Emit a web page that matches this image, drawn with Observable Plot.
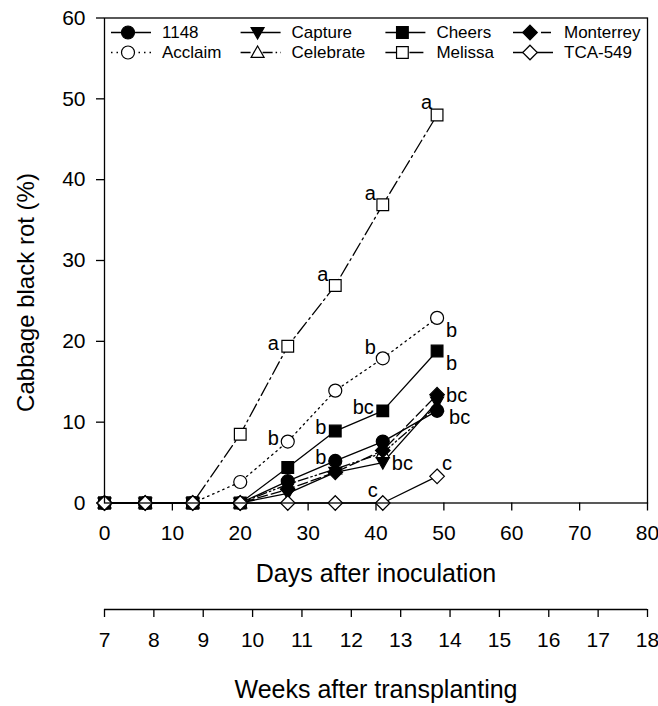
<!DOCTYPE html>
<html><head><meta charset="utf-8">
<script src="https://cdn.jsdelivr.net/npm/d3@7"></script>
<script src="https://cdn.jsdelivr.net/npm/@observablehq/plot@0.6"></script>
<style>
html,body{margin:0;padding:0;background:#fff;}
#chart{width:658px;height:706px;overflow:hidden;}
#chart svg{display:block;}
</style></head><body><div id="chart"></div>
<script>
// ---- data ----
const days = [0, 6, 13, 20, 27, 34, 41, 49];
const cultivars = ["1148", "Acclaim", "Capture", "Celebrate", "Cheers", "Melissa", "Monterrey", "TCA-549"];
const rot1148      = [0, 0, 0, 0,   2.7,  5.2,  7.6, 11.4];
const rotAcclaim   = [0, 0, 0, 2.6, 7.6, 13.9, 17.9, 22.9];
const rotCapture   = [0, 0, 0, 0,   1.2,  3.8,  5.0, 12.5];
const rotCelebrate = [0, 0, 0, 0,   2.3,  4.2,  6.2, 12.0];
const rotCheers    = [0, 0, 0, 0,   4.4,  8.9, 11.4, 18.8];
const rotMelissa   = [0, 0, 0, 8.5, 19.4, 26.9, 36.9, 48.0];
const rotMonterrey = [0, 0, 0, 0,   1.7,  3.8,  6.5, 13.4];
const rotTCA549    = [0, 0, 0, 0,   0,    0,    0,    3.3];
const xTicks = [0, 10, 20, 30, 40, 50, 60, 70, 80];
const yTicks = [0, 10, 20, 30, 40, 50, 60];
const weekTicks = [7, 8, 9, 10, 11, 12, 13, 14, 15, 16, 17, 18];
const legendOrder = ["1148", "Capture", "Cheers", "Monterrey", "Acclaim", "Celebrate", "Melissa", "TCA-549"];
const letterCultivar = ["Melissa", "Melissa", "Melissa", "Melissa", "Acclaim", "Acclaim", "Acclaim", "Cheers", "Cheers", "Cheers", "1148", "1148", "Monterrey", "Capture", "TCA-549", "TCA-549"];
const letterDay      = [27, 34, 41, 49, 27, 41, 49, 34, 41, 49, 34, 49, 49, 41, 41, 49];
const letterText     = ["a", "a", "a", "a", "b", "b", "b", "b", "bc", "b", "b", "bc", "bc", "bc", "c", "c"];
const letterPlace    = ["w", "nw", "nw", "n", "w", "nw", "se", "w", "w", "se", "w", "ese", "e", "e", "n", "ne"];
const xTitle = "Days after inoculation";
const yTitle = "Cabbage black rot (%)";
const weeksTitle = "Weeks after transplanting";

// ---- build table ----
const seriesValues = {"1148": rot1148, "Acclaim": rotAcclaim, "Capture": rotCapture, "Celebrate": rotCelebrate,
  "Cheers": rotCheers, "Melissa": rotMelissa, "Monterrey": rotMonterrey, "TCA-549": rotTCA549};
const rows = cultivars.flatMap(c => days.map((d, i) => ({cultivar: c, day: d, value: seriesValues[c][i]})));
const letters = letterText.map((t, i) => {
  const c = letterCultivar[i], d = letterDay[i];
  return {cultivar: c, day: d, value: seriesValues[c][days.indexOf(d)], text: t, place: letterPlace[i]};
});

// ---- symbols ----
const rad = size => Math.sqrt(size / Math.PI);
const symCircle = {draw(ctx, size) { const r = rad(size); ctx.moveTo(r, 0); ctx.arc(0, 0, r, 0, 2 * Math.PI); }};
const symSquare = {draw(ctx, size) { const h = rad(size) * 0.9; ctx.rect(-h, -h, 2 * h, 2 * h); }};
const symDiamond = {draw(ctx, size) { const h = rad(size) * 1.12; ctx.moveTo(0, -h); ctx.lineTo(h, 0); ctx.lineTo(0, h); ctx.lineTo(-h, 0); ctx.closePath(); }};
const symTriUp = {draw(ctx, size) { const h = rad(size); ctx.moveTo(0, -h); ctx.lineTo(h, h * 0.75); ctx.lineTo(-h, h * 0.75); ctx.closePath(); }};
const symTriDown = {draw(ctx, size) { const h = rad(size); ctx.moveTo(0, h); ctx.lineTo(h, -h * 0.75); ctx.lineTo(-h, -h * 0.75); ctx.closePath(); }};

const styles = {
  "1148":      {symbol: symCircle,  fill: "#000", dash: null},
  "Acclaim":   {symbol: symCircle,  fill: "#fff", dash: "1.5,4"},
  "Capture":   {symbol: symTriDown, fill: "#000", dash: null},
  "Celebrate": {symbol: symTriUp,   fill: "#fff", dash: "10,3,1.5,3,1.5,3"},
  "Cheers":    {symbol: symSquare,  fill: "#000", dash: null},
  "Melissa":   {symbol: symSquare,  fill: "#fff", dash: "14,4,2,4"},
  "Monterrey": {symbol: symDiamond, fill: "#000", dash: "10,4"},
  "TCA-549":   {symbol: symDiamond, fill: "#fff", dash: null}
};
const R = 6.5;
const places = {
  w:   {dx: -9,  dy: -3,  anchor: "end"},
  nw:  {dx: -7,  dy: -11, anchor: "end"},
  n:   {dx: -5,  dy: -12, anchor: "end"},
  se:  {dx: 9,   dy: 13,  anchor: "start"},
  e:   {dx: 9,   dy: 1,   anchor: "start"},
  ese: {dx: 12,  dy: 7,   anchor: "start"},
  ne:  {dx: 5,   dy: -13, anchor: "start"}
};

const font = "'Liberation Sans', Arial, Helvetica, sans-serif";
const baseStyle = {fontFamily: font, fontSize: "21px", color: "#000", background: "#fff", overflow: "visible"};

const lineMarks = cultivars.map(c => Plot.line(rows.filter(r => r.cultivar === c), {
  x: "day", y: "value", stroke: "#000", strokeWidth: 1.3,
  strokeDasharray: styles[c].dash ?? undefined
}));
const drawOrder = ["Melissa", "Acclaim", "Cheers", "Celebrate", "Capture", "1148", "Monterrey", "TCA-549"];
const dotMarks = drawOrder.map(c => Plot.dot(rows.filter(r => r.cultivar === c), {
  x: "day", y: "value", r: R, symbol: styles[c].symbol, fill: styles[c].fill, stroke: "#000", strokeWidth: 1.2
}));
const letterMarks = Object.entries(places).map(([p, o]) => Plot.text(letters.filter(l => l.place === p), {
  x: "day", y: "value", text: "text", dx: o.dx, dy: o.dy, textAnchor: o.anchor, lineAnchor: "middle", fontSize: 20, fill: "#000"
}));

// legend drawn inside the frame with a render function
function legendMark(index, scales, values, dim) {
  const g = d3.create("svg:g").attr("font-family", font).attr("font-size", 17).attr("text-anchor", "start");
  const colText = [58, 187.6, 332.4, 460];
  const rowY = [15, 35];
  legendOrder.forEach((c, i) => {
    const col = i % 4, row = Math.floor(i / 4);
    const tx = dim.marginLeft + colText[col];
    const y = dim.marginTop + rowY[row];
    const st = styles[c];
    g.append("line").attr("x1", tx - 51).attr("x2", tx - 11).attr("y1", y).attr("y2", y)
      .attr("stroke", "#000").attr("stroke-width", 1.3).attr("stroke-dasharray", st.dash);
    g.append("path").attr("transform", `translate(${tx - 34},${y})`)
      .attr("d", d3.symbol(st.symbol, Math.PI * R * R)())
      .attr("fill", st.fill).attr("stroke", "#000").attr("stroke-width", 1.2);
    g.append("text").attr("x", tx).attr("y", y).attr("dy", "0.35em").attr("fill", "#000").text(c);
  });
  return g.node();
}

const main = Plot.plot({
  width: 658, height: 590,
  marginLeft: 104, marginRight: 11, marginTop: 17.5, marginBottom: 87.5,
  x: {domain: [0, 80]},
  y: {domain: [0, 60]},
  style: baseStyle,
  marks: [
    Plot.axisX({ticks: xTicks, tickSize: 8, tickPadding: 14, label: null, strokeWidth: 1.3, fontSize: 21}),
    Plot.axisY({ticks: yTicks, tickSize: 8, tickPadding: 11, label: null, strokeWidth: 1.3, fontSize: 21}),
    ...lineMarks,
    ...dotMarks,
    Plot.frame({stroke: "#000", strokeWidth: 1.3}),
    ...letterMarks,
    legendMark,
    Plot.text([xTitle], {text: d => d, frameAnchor: "bottom", dy: 71, fontSize: 25, textAnchor: "middle", lineAnchor: "middle", fill: "#000"}),
    Plot.text([yTitle], {text: d => d, frameAnchor: "left", dx: -78, dy: 32, rotate: -90, fontSize: 24, textAnchor: "middle", lineAnchor: "middle", fill: "#000"})
  ]
});

const weeks = Plot.plot({
  width: 658, height: 116,
  marginLeft: 104, marginRight: 11, marginTop: 0, marginBottom: 97,
  x: {domain: [7, 18]},
  y: {domain: [0, 1], axis: null},
  style: baseStyle,
  marks: [
    Plot.ruleY([0], {stroke: "#000", strokeWidth: 1.3}),
    Plot.axisX({ticks: weekTicks, tickSize: 8, tickPadding: 15, label: null, strokeWidth: 1.3, fontSize: 21}),
    Plot.text([weeksTitle], {text: d => d, frameAnchor: "bottom", dy: 80, fontSize: 25, textAnchor: "middle", lineAnchor: "middle", fill: "#000"})
  ]
});

const root = document.getElementById("chart");
root.append(main, weeks);
</script>
</body></html>
